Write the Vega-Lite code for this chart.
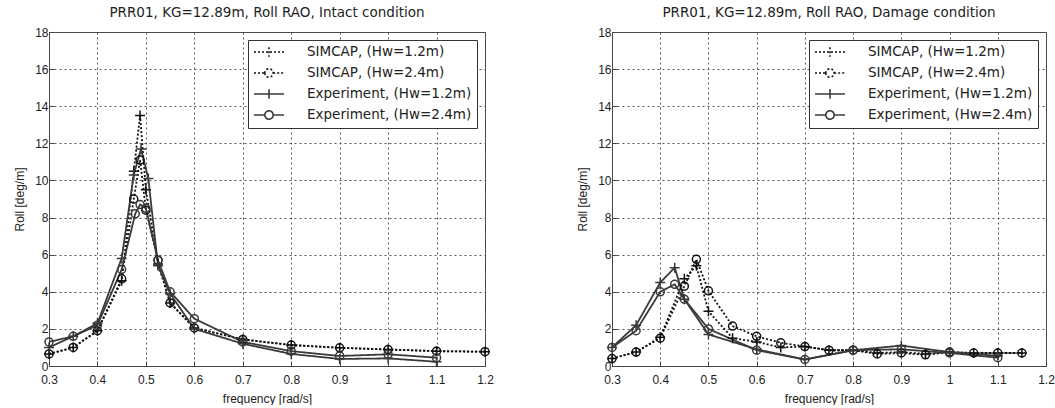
{
  "$schema": "https://vega.github.io/schema/vega-lite/v6.json",
  "padding": {"left": 13, "top": 5, "right": 0, "bottom": 0},
  "background": "white",
  "config": {
    "font": "Liberation Sans",
    "view": {"stroke": "#444", "strokeWidth": 1},
    "axis": {
      "labelFont": "Liberation Sans",
      "labelFontSize": 12,
      "labelColor": "#222",
      "labelFlush": false,
      "titleFont": "Liberation Sans",
      "titleFontSize": 12,
      "titleFontWeight": "normal",
      "titleColor": "#222",
      "domainColor": "#444",
      "tickColor": "#444",
      "tickSize": -5,
      "grid": true,
      "gridColor": "#555",
      "gridDash": [2, 3],
      "gridWidth": 1
    },
    "axisX": {"labelPadding": 13, "titlePadding": 8},
    "axisY": {"labelPadding": 6, "titlePadding": 8},
    "legend": {
      "orient": "top-right", "offset": 8, "title": null, "padding": 5, "strokeColor": "#333", "fillColor": "white",
      "labelFont": "DejaVu Sans", "labelFontSize": 13.5, "labelColor": "#222", "labelLimit": 300, "symbolSize": 144, "rowPadding": 5,
      "symbolOffset": 9, "labelOffset": 31, "symbolStrokeWidth": 1.6, "symbolFillColor": "transparent"
    },
    "title": {"font": "DejaVu Sans", "fontSize": 13.5, "fontWeight": "normal", "color": "#222", "offset": 7}
  },
  "datasets": {
    "rao": [
      {"panel": "a", "series": "SIMCAP, (Hw=1.2m)", "freq": 0.3, "roll": 0.65},
      {"panel": "a", "series": "SIMCAP, (Hw=1.2m)", "freq": 0.35, "roll": 1.0},
      {"panel": "a", "series": "SIMCAP, (Hw=1.2m)", "freq": 0.4, "roll": 1.9},
      {"panel": "a", "series": "SIMCAP, (Hw=1.2m)", "freq": 0.45, "roll": 4.6},
      {"panel": "a", "series": "SIMCAP, (Hw=1.2m)", "freq": 0.475, "roll": 10.5},
      {"panel": "a", "series": "SIMCAP, (Hw=1.2m)", "freq": 0.488, "roll": 13.5},
      {"panel": "a", "series": "SIMCAP, (Hw=1.2m)", "freq": 0.5, "roll": 9.5},
      {"panel": "a", "series": "SIMCAP, (Hw=1.2m)", "freq": 0.525, "roll": 5.5},
      {"panel": "a", "series": "SIMCAP, (Hw=1.2m)", "freq": 0.55, "roll": 3.4},
      {"panel": "a", "series": "SIMCAP, (Hw=1.2m)", "freq": 0.6, "roll": 2.05},
      {"panel": "a", "series": "SIMCAP, (Hw=1.2m)", "freq": 0.7, "roll": 1.43},
      {"panel": "a", "series": "SIMCAP, (Hw=1.2m)", "freq": 0.8, "roll": 1.13},
      {"panel": "a", "series": "SIMCAP, (Hw=1.2m)", "freq": 0.9, "roll": 0.98},
      {"panel": "a", "series": "SIMCAP, (Hw=1.2m)", "freq": 1.0, "roll": 0.89},
      {"panel": "a", "series": "SIMCAP, (Hw=1.2m)", "freq": 1.1, "roll": 0.8},
      {"panel": "a", "series": "SIMCAP, (Hw=1.2m)", "freq": 1.2, "roll": 0.77},
      {"panel": "a", "series": "SIMCAP, (Hw=2.4m)", "freq": 0.3, "roll": 0.65},
      {"panel": "a", "series": "SIMCAP, (Hw=2.4m)", "freq": 0.35, "roll": 1.0},
      {"panel": "a", "series": "SIMCAP, (Hw=2.4m)", "freq": 0.4, "roll": 1.9},
      {"panel": "a", "series": "SIMCAP, (Hw=2.4m)", "freq": 0.45, "roll": 4.7},
      {"panel": "a", "series": "SIMCAP, (Hw=2.4m)", "freq": 0.475, "roll": 9.0},
      {"panel": "a", "series": "SIMCAP, (Hw=2.4m)", "freq": 0.488, "roll": 11.1},
      {"panel": "a", "series": "SIMCAP, (Hw=2.4m)", "freq": 0.5, "roll": 8.4},
      {"panel": "a", "series": "SIMCAP, (Hw=2.4m)", "freq": 0.525, "roll": 5.7},
      {"panel": "a", "series": "SIMCAP, (Hw=2.4m)", "freq": 0.55, "roll": 3.4},
      {"panel": "a", "series": "SIMCAP, (Hw=2.4m)", "freq": 0.6, "roll": 2.05},
      {"panel": "a", "series": "SIMCAP, (Hw=2.4m)", "freq": 0.7, "roll": 1.43},
      {"panel": "a", "series": "SIMCAP, (Hw=2.4m)", "freq": 0.8, "roll": 1.13},
      {"panel": "a", "series": "SIMCAP, (Hw=2.4m)", "freq": 0.9, "roll": 0.98},
      {"panel": "a", "series": "SIMCAP, (Hw=2.4m)", "freq": 1.0, "roll": 0.89},
      {"panel": "a", "series": "SIMCAP, (Hw=2.4m)", "freq": 1.1, "roll": 0.8},
      {"panel": "a", "series": "SIMCAP, (Hw=2.4m)", "freq": 1.2, "roll": 0.77},
      {"panel": "a", "series": "Experiment, (Hw=1.2m)", "freq": 0.3, "roll": 1.0},
      {"panel": "a", "series": "Experiment, (Hw=1.2m)", "freq": 0.35, "roll": 1.6},
      {"panel": "a", "series": "Experiment, (Hw=1.2m)", "freq": 0.4, "roll": 2.3},
      {"panel": "a", "series": "Experiment, (Hw=1.2m)", "freq": 0.45, "roll": 5.8},
      {"panel": "a", "series": "Experiment, (Hw=1.2m)", "freq": 0.475, "roll": 10.3},
      {"panel": "a", "series": "Experiment, (Hw=1.2m)", "freq": 0.49, "roll": 11.7},
      {"panel": "a", "series": "Experiment, (Hw=1.2m)", "freq": 0.505, "roll": 10.1},
      {"panel": "a", "series": "Experiment, (Hw=1.2m)", "freq": 0.525, "roll": 5.4},
      {"panel": "a", "series": "Experiment, (Hw=1.2m)", "freq": 0.55, "roll": 3.9},
      {"panel": "a", "series": "Experiment, (Hw=1.2m)", "freq": 0.6, "roll": 2.0},
      {"panel": "a", "series": "Experiment, (Hw=1.2m)", "freq": 0.7, "roll": 1.2},
      {"panel": "a", "series": "Experiment, (Hw=1.2m)", "freq": 0.8, "roll": 0.65},
      {"panel": "a", "series": "Experiment, (Hw=1.2m)", "freq": 0.9, "roll": 0.38},
      {"panel": "a", "series": "Experiment, (Hw=1.2m)", "freq": 1.0, "roll": 0.41},
      {"panel": "a", "series": "Experiment, (Hw=1.2m)", "freq": 1.1, "roll": 0.23},
      {"panel": "a", "series": "Experiment, (Hw=2.4m)", "freq": 0.3, "roll": 1.3},
      {"panel": "a", "series": "Experiment, (Hw=2.4m)", "freq": 0.35, "roll": 1.6},
      {"panel": "a", "series": "Experiment, (Hw=2.4m)", "freq": 0.4, "roll": 2.2},
      {"panel": "a", "series": "Experiment, (Hw=2.4m)", "freq": 0.45, "roll": 5.2},
      {"panel": "a", "series": "Experiment, (Hw=2.4m)", "freq": 0.478, "roll": 8.2},
      {"panel": "a", "series": "Experiment, (Hw=2.4m)", "freq": 0.488, "roll": 8.7},
      {"panel": "a", "series": "Experiment, (Hw=2.4m)", "freq": 0.5, "roll": 8.5},
      {"panel": "a", "series": "Experiment, (Hw=2.4m)", "freq": 0.525, "roll": 5.7},
      {"panel": "a", "series": "Experiment, (Hw=2.4m)", "freq": 0.55, "roll": 4.0},
      {"panel": "a", "series": "Experiment, (Hw=2.4m)", "freq": 0.6, "roll": 2.55},
      {"panel": "a", "series": "Experiment, (Hw=2.4m)", "freq": 0.7, "roll": 1.3},
      {"panel": "a", "series": "Experiment, (Hw=2.4m)", "freq": 0.8, "roll": 0.8},
      {"panel": "a", "series": "Experiment, (Hw=2.4m)", "freq": 0.9, "roll": 0.54},
      {"panel": "a", "series": "Experiment, (Hw=2.4m)", "freq": 1.0, "roll": 0.63},
      {"panel": "a", "series": "Experiment, (Hw=2.4m)", "freq": 1.1, "roll": 0.45},

      {"panel": "b", "series": "SIMCAP, (Hw=1.2m)", "freq": 0.3, "roll": 0.4},
      {"panel": "b", "series": "SIMCAP, (Hw=1.2m)", "freq": 0.35, "roll": 0.75},
      {"panel": "b", "series": "SIMCAP, (Hw=1.2m)", "freq": 0.4, "roll": 1.55},
      {"panel": "b", "series": "SIMCAP, (Hw=1.2m)", "freq": 0.45, "roll": 4.7},
      {"panel": "b", "series": "SIMCAP, (Hw=1.2m)", "freq": 0.475, "roll": 5.4},
      {"panel": "b", "series": "SIMCAP, (Hw=1.2m)", "freq": 0.5, "roll": 2.95},
      {"panel": "b", "series": "SIMCAP, (Hw=1.2m)", "freq": 0.55, "roll": 1.5},
      {"panel": "b", "series": "SIMCAP, (Hw=1.2m)", "freq": 0.6, "roll": 1.3},
      {"panel": "b", "series": "SIMCAP, (Hw=1.2m)", "freq": 0.65, "roll": 1.0},
      {"panel": "b", "series": "SIMCAP, (Hw=1.2m)", "freq": 0.7, "roll": 1.05},
      {"panel": "b", "series": "SIMCAP, (Hw=1.2m)", "freq": 0.75, "roll": 0.85},
      {"panel": "b", "series": "SIMCAP, (Hw=1.2m)", "freq": 0.8, "roll": 0.85},
      {"panel": "b", "series": "SIMCAP, (Hw=1.2m)", "freq": 0.85, "roll": 0.7},
      {"panel": "b", "series": "SIMCAP, (Hw=1.2m)", "freq": 0.9, "roll": 0.75},
      {"panel": "b", "series": "SIMCAP, (Hw=1.2m)", "freq": 0.95, "roll": 0.65},
      {"panel": "b", "series": "SIMCAP, (Hw=1.2m)", "freq": 1.0, "roll": 0.75},
      {"panel": "b", "series": "SIMCAP, (Hw=1.2m)", "freq": 1.05, "roll": 0.7},
      {"panel": "b", "series": "SIMCAP, (Hw=1.2m)", "freq": 1.1, "roll": 0.7},
      {"panel": "b", "series": "SIMCAP, (Hw=1.2m)", "freq": 1.15, "roll": 0.7},
      {"panel": "b", "series": "SIMCAP, (Hw=2.4m)", "freq": 0.3, "roll": 0.4},
      {"panel": "b", "series": "SIMCAP, (Hw=2.4m)", "freq": 0.35, "roll": 0.75},
      {"panel": "b", "series": "SIMCAP, (Hw=2.4m)", "freq": 0.4, "roll": 1.5},
      {"panel": "b", "series": "SIMCAP, (Hw=2.4m)", "freq": 0.45, "roll": 4.3},
      {"panel": "b", "series": "SIMCAP, (Hw=2.4m)", "freq": 0.475, "roll": 5.75},
      {"panel": "b", "series": "SIMCAP, (Hw=2.4m)", "freq": 0.5, "roll": 4.05},
      {"panel": "b", "series": "SIMCAP, (Hw=2.4m)", "freq": 0.55, "roll": 2.15},
      {"panel": "b", "series": "SIMCAP, (Hw=2.4m)", "freq": 0.6, "roll": 1.6},
      {"panel": "b", "series": "SIMCAP, (Hw=2.4m)", "freq": 0.65, "roll": 1.25},
      {"panel": "b", "series": "SIMCAP, (Hw=2.4m)", "freq": 0.7, "roll": 1.05},
      {"panel": "b", "series": "SIMCAP, (Hw=2.4m)", "freq": 0.75, "roll": 0.85},
      {"panel": "b", "series": "SIMCAP, (Hw=2.4m)", "freq": 0.8, "roll": 0.85},
      {"panel": "b", "series": "SIMCAP, (Hw=2.4m)", "freq": 0.85, "roll": 0.65},
      {"panel": "b", "series": "SIMCAP, (Hw=2.4m)", "freq": 0.9, "roll": 0.7},
      {"panel": "b", "series": "SIMCAP, (Hw=2.4m)", "freq": 0.95, "roll": 0.6},
      {"panel": "b", "series": "SIMCAP, (Hw=2.4m)", "freq": 1.0, "roll": 0.75},
      {"panel": "b", "series": "SIMCAP, (Hw=2.4m)", "freq": 1.05, "roll": 0.7},
      {"panel": "b", "series": "SIMCAP, (Hw=2.4m)", "freq": 1.1, "roll": 0.7},
      {"panel": "b", "series": "SIMCAP, (Hw=2.4m)", "freq": 1.15, "roll": 0.7},
      {"panel": "b", "series": "Experiment, (Hw=1.2m)", "freq": 0.3, "roll": 1.0},
      {"panel": "b", "series": "Experiment, (Hw=1.2m)", "freq": 0.35, "roll": 2.2},
      {"panel": "b", "series": "Experiment, (Hw=1.2m)", "freq": 0.4, "roll": 4.5},
      {"panel": "b", "series": "Experiment, (Hw=1.2m)", "freq": 0.43, "roll": 5.3},
      {"panel": "b", "series": "Experiment, (Hw=1.2m)", "freq": 0.45, "roll": 3.6},
      {"panel": "b", "series": "Experiment, (Hw=1.2m)", "freq": 0.5, "roll": 1.7},
      {"panel": "b", "series": "Experiment, (Hw=1.2m)", "freq": 0.6, "roll": 0.9},
      {"panel": "b", "series": "Experiment, (Hw=1.2m)", "freq": 0.7, "roll": 0.35},
      {"panel": "b", "series": "Experiment, (Hw=1.2m)", "freq": 0.8, "roll": 0.85},
      {"panel": "b", "series": "Experiment, (Hw=1.2m)", "freq": 0.9, "roll": 1.1},
      {"panel": "b", "series": "Experiment, (Hw=1.2m)", "freq": 1.0, "roll": 0.75},
      {"panel": "b", "series": "Experiment, (Hw=1.2m)", "freq": 1.1, "roll": 0.55},
      {"panel": "b", "series": "Experiment, (Hw=2.4m)", "freq": 0.3, "roll": 1.0},
      {"panel": "b", "series": "Experiment, (Hw=2.4m)", "freq": 0.35, "roll": 1.9},
      {"panel": "b", "series": "Experiment, (Hw=2.4m)", "freq": 0.4, "roll": 4.0},
      {"panel": "b", "series": "Experiment, (Hw=2.4m)", "freq": 0.43, "roll": 4.4},
      {"panel": "b", "series": "Experiment, (Hw=2.4m)", "freq": 0.45, "roll": 3.6},
      {"panel": "b", "series": "Experiment, (Hw=2.4m)", "freq": 0.5, "roll": 2.0},
      {"panel": "b", "series": "Experiment, (Hw=2.4m)", "freq": 0.6, "roll": 0.85},
      {"panel": "b", "series": "Experiment, (Hw=2.4m)", "freq": 0.7, "roll": 0.35},
      {"panel": "b", "series": "Experiment, (Hw=2.4m)", "freq": 0.8, "roll": 0.85},
      {"panel": "b", "series": "Experiment, (Hw=2.4m)", "freq": 0.9, "roll": 0.9},
      {"panel": "b", "series": "Experiment, (Hw=2.4m)", "freq": 1.0, "roll": 0.7},
      {"panel": "b", "series": "Experiment, (Hw=2.4m)", "freq": 1.1, "roll": 0.45}
    ]
  },
  "spacing": 82,
  "resolve": {
    "scale": {"color": "independent", "strokeDash": "independent"},
    "legend": {"color": "independent", "strokeDash": "independent"}
  },
  "hconcat": [
    {
      "width": 436,
      "height": 334,
      "title": {"text": "PRR01, KG=12.89m, Roll RAO, Intact condition"},
      "data": {"name": "rao"},
      "transform": [{"filter": "datum.panel === 'a'"}],
      "encoding": {
        "x": {"field": "freq", "type": "quantitative", "scale": {"domain": [0.3, 1.2], "nice": false, "zero": false},
              "axis": {"title": "frequency [rad/s]", "values": [0.3, 0.4, 0.5, 0.6, 0.7, 0.8, 0.9, 1.0, 1.1, 1.2], "format": ".1~f"}},
        "y": {"field": "roll", "type": "quantitative", "scale": {"domain": [0, 18], "nice": false},
              "axis": {"title": "Roll [deg/m]", "values": [0, 2, 4, 6, 8, 10, 12, 14, 16, 18]}}
      },
      "layer": [
        {
          "mark": {"type": "line", "strokeWidth": 1.8},
          "encoding": {
            "color": {"field": "series", "type": "nominal",
              "scale": {"domain": ["SIMCAP, (Hw=1.2m)", "SIMCAP, (Hw=2.4m)", "Experiment, (Hw=1.2m)", "Experiment, (Hw=2.4m)"], "range": ["#111111", "#111111", "#3a3a3a", "#3a3a3a"]},
              "legend": {"encode": {"symbols": {"update": {"shape": {"signal": "indexof(datum.value, 'Hw=1.2') >= 0 ? 'M-2.5,0H2.5M0,-0.8V0.8' : 'M-2.5,0H-0.7M0.7,0H2.5M-0.7,0A0.7,0.7,0,1,0,0.7,0A0.7,0.7,0,1,0,-0.7,0'"}, "fill": {"value": "transparent"}}}}}},
            "strokeDash": {"field": "series", "type": "nominal",
              "scale": {"domain": ["SIMCAP, (Hw=1.2m)", "SIMCAP, (Hw=2.4m)", "Experiment, (Hw=1.2m)", "Experiment, (Hw=2.4m)"], "range": [[2, 2], [2, 2], [1, 0], [1, 0]]},
              "legend": {"encode": {"symbols": {"update": {"shape": {"signal": "indexof(datum.value, 'Hw=1.2') >= 0 ? 'M-2.5,0H2.5M0,-0.8V0.8' : 'M-2.5,0H-0.7M0.7,0H2.5M-0.7,0A0.7,0.7,0,1,0,0.7,0A0.7,0.7,0,1,0,-0.7,0'"}, "fill": {"value": "transparent"}}}}}}
          }
        },
        {
          "mark": {"type": "point", "filled": false, "strokeWidth": 1.5, "size": 100, "opacity": 1},
          "encoding": {
            "stroke": {"condition": {"test": "indexof(datum.series, 'SIMCAP') >= 0", "value": "#111111"}, "value": "#3a3a3a"},
            "shape": {"condition": {"test": "indexof(datum.series, 'Hw=1.2') >= 0", "value": "M-1,0H1M0,-1V1"}, "value": "M-0.8,0A0.8,0.8,0,1,0,0.8,0A0.8,0.8,0,1,0,-0.8,0"}
          }
        },
        {
          "data": {"values": [{"label": "(a)"}]},
          "mark": {"type": "text", "font": "Liberation Serif", "fontWeight": "bold", "fontSize": 24, "color": "#111"},
          "encoding": {"x": {"datum": 1.1}, "y": {"datum": 2.9}, "text": {"field": "label"}}
        }
      ]
    },
    {
      "width": 434,
      "height": 334,
      "title": {"text": "PRR01, KG=12.89m, Roll RAO, Damage condition"},
      "data": {"name": "rao"},
      "transform": [{"filter": "datum.panel === 'b'"}],
      "encoding": {
        "x": {"field": "freq", "type": "quantitative", "scale": {"domain": [0.3, 1.2], "nice": false, "zero": false},
              "axis": {"title": "frequency [rad/s]", "values": [0.3, 0.4, 0.5, 0.6, 0.7, 0.8, 0.9, 1.0, 1.1, 1.2], "format": ".1~f"}},
        "y": {"field": "roll", "type": "quantitative", "scale": {"domain": [0, 18], "nice": false},
              "axis": {"title": "Roll [deg/m]", "values": [0, 2, 4, 6, 8, 10, 12, 14, 16, 18]}}
      },
      "layer": [
        {
          "mark": {"type": "line", "strokeWidth": 1.8},
          "encoding": {
            "color": {"field": "series", "type": "nominal",
              "scale": {"domain": ["SIMCAP, (Hw=1.2m)", "SIMCAP, (Hw=2.4m)", "Experiment, (Hw=1.2m)", "Experiment, (Hw=2.4m)"], "range": ["#111111", "#111111", "#3a3a3a", "#3a3a3a"]},
              "legend": {"encode": {"symbols": {"update": {"shape": {"signal": "indexof(datum.value, 'Hw=1.2') >= 0 ? 'M-2.5,0H2.5M0,-0.8V0.8' : 'M-2.5,0H-0.7M0.7,0H2.5M-0.7,0A0.7,0.7,0,1,0,0.7,0A0.7,0.7,0,1,0,-0.7,0'"}, "fill": {"value": "transparent"}}}}}},
            "strokeDash": {"field": "series", "type": "nominal",
              "scale": {"domain": ["SIMCAP, (Hw=1.2m)", "SIMCAP, (Hw=2.4m)", "Experiment, (Hw=1.2m)", "Experiment, (Hw=2.4m)"], "range": [[2, 2], [2, 2], [1, 0], [1, 0]]},
              "legend": {"encode": {"symbols": {"update": {"shape": {"signal": "indexof(datum.value, 'Hw=1.2') >= 0 ? 'M-2.5,0H2.5M0,-0.8V0.8' : 'M-2.5,0H-0.7M0.7,0H2.5M-0.7,0A0.7,0.7,0,1,0,0.7,0A0.7,0.7,0,1,0,-0.7,0'"}, "fill": {"value": "transparent"}}}}}}
          }
        },
        {
          "mark": {"type": "point", "filled": false, "strokeWidth": 1.5, "size": 100, "opacity": 1},
          "encoding": {
            "stroke": {"condition": {"test": "indexof(datum.series, 'SIMCAP') >= 0", "value": "#111111"}, "value": "#3a3a3a"},
            "shape": {"condition": {"test": "indexof(datum.series, 'Hw=1.2') >= 0", "value": "M-1,0H1M0,-1V1"}, "value": "M-0.8,0A0.8,0.8,0,1,0,0.8,0A0.8,0.8,0,1,0,-0.8,0"}
          }
        },
        {
          "data": {"values": [{"label": "(b)"}]},
          "mark": {"type": "text", "font": "Liberation Serif", "fontWeight": "bold", "fontSize": 24, "color": "#111"},
          "encoding": {"x": {"datum": 1.1}, "y": {"datum": 2.9}, "text": {"field": "label"}}
        }
      ]
    }
  ]
}
